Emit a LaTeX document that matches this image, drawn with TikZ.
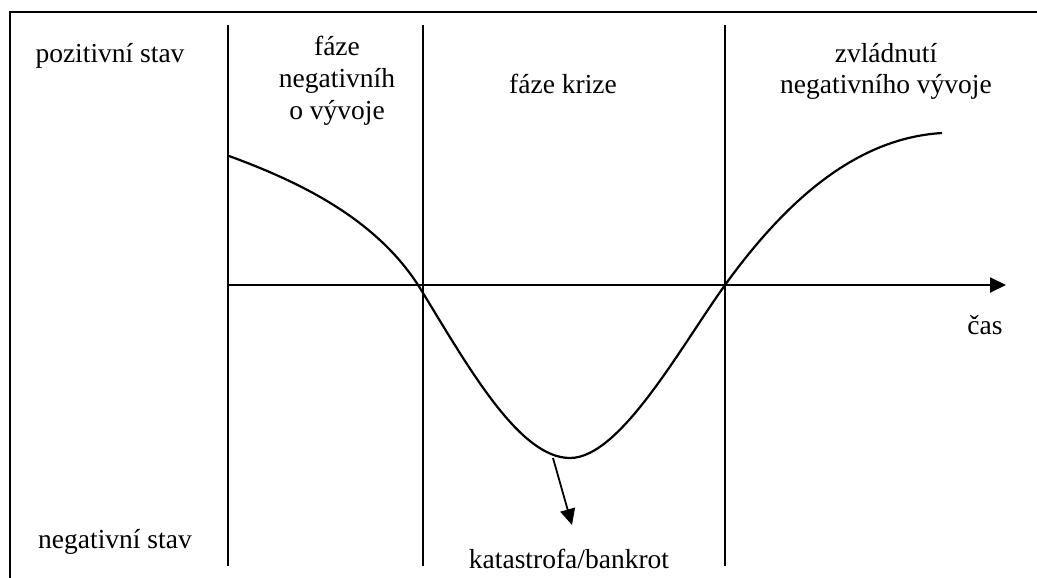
\documentclass[tikz,border=0pt]{standalone}
\usepackage{fontspec}
\setmainfont{Liberation Serif}
\usetikzlibrary{arrows.meta}
\tikzset{
  krize/frame/.style={line width=2pt, draw=black},
  krize/line/.style={line width=2pt, draw=black},
  krize/curve/.style={line width=2.2pt, draw=black},
  krize/arrow/.style={-{Triangle[length=16pt,width=15pt]}, line width=2pt, draw=black},
  krize/label/.style={font=\fontsize{27.5}{32}\selectfont, align=center, inner sep=0pt, anchor=base}
}

\begin{document}
\begin{tikzpicture}[x=1pt,y=-1pt]
  \useasboundingbox (0,0) rectangle (1037,578);
  \draw[krize/frame] (1040,12) -- (9.5,12) -- (9.5,581);

  % phase borders
  \foreach \i/\x in {1/228,2/423,3/725}{
    \coordinate (t\i) at (\x,25);
    \coordinate (b\i) at (\x,566);
    \draw[krize/line] (t\i) -- (b\i);
  }

  % time axis
  \coordinate (axstart) at (228,285);
  \coordinate (axend) at (1006,285);
  \draw[krize/arrow] (axstart) -- (axend);

  % development curve
  \coordinate (start) at (229,156);
  \coordinate (cross1) at (423,293);
  \coordinate (bottom) at (570,458);
  \coordinate (cross2) at (725,285);
  \coordinate (end) at (942,133);
  \draw[krize/curve] (start) .. controls (300,182) and (380,220) .. (cross1)
    .. controls (470,370) and (520,458) .. (bottom)
    .. controls (620,458) and (680,348) .. (cross2)
    .. controls (790,195) and (860,138) .. (end);

  \coordinate (low) at (553,458);
  \coordinate (crash) at (572,525);
  \draw[krize/arrow, line width=1.8pt] (low) -- (crash);

  \node[krize/label] (poz) at (110,63) {pozitivní stav};
  \node[krize/label] (neg) at (115,548) {negativní stav};
  \node[krize/label] (faze1) at (337,119) {fáze\\negativníh\\o vývoje};
  \node[krize/label] (faze2) at (563,94) {fáze krize};
  \node[krize/label] (faze3) at (886,94) {zvládnutí\\negativního vývoje};
  \node[krize/label] (cas) at (985,334) {čas};
  \node[krize/label] (kat) at (569,568) {katastrofa/bankrot};
\end{tikzpicture}
\end{document}
